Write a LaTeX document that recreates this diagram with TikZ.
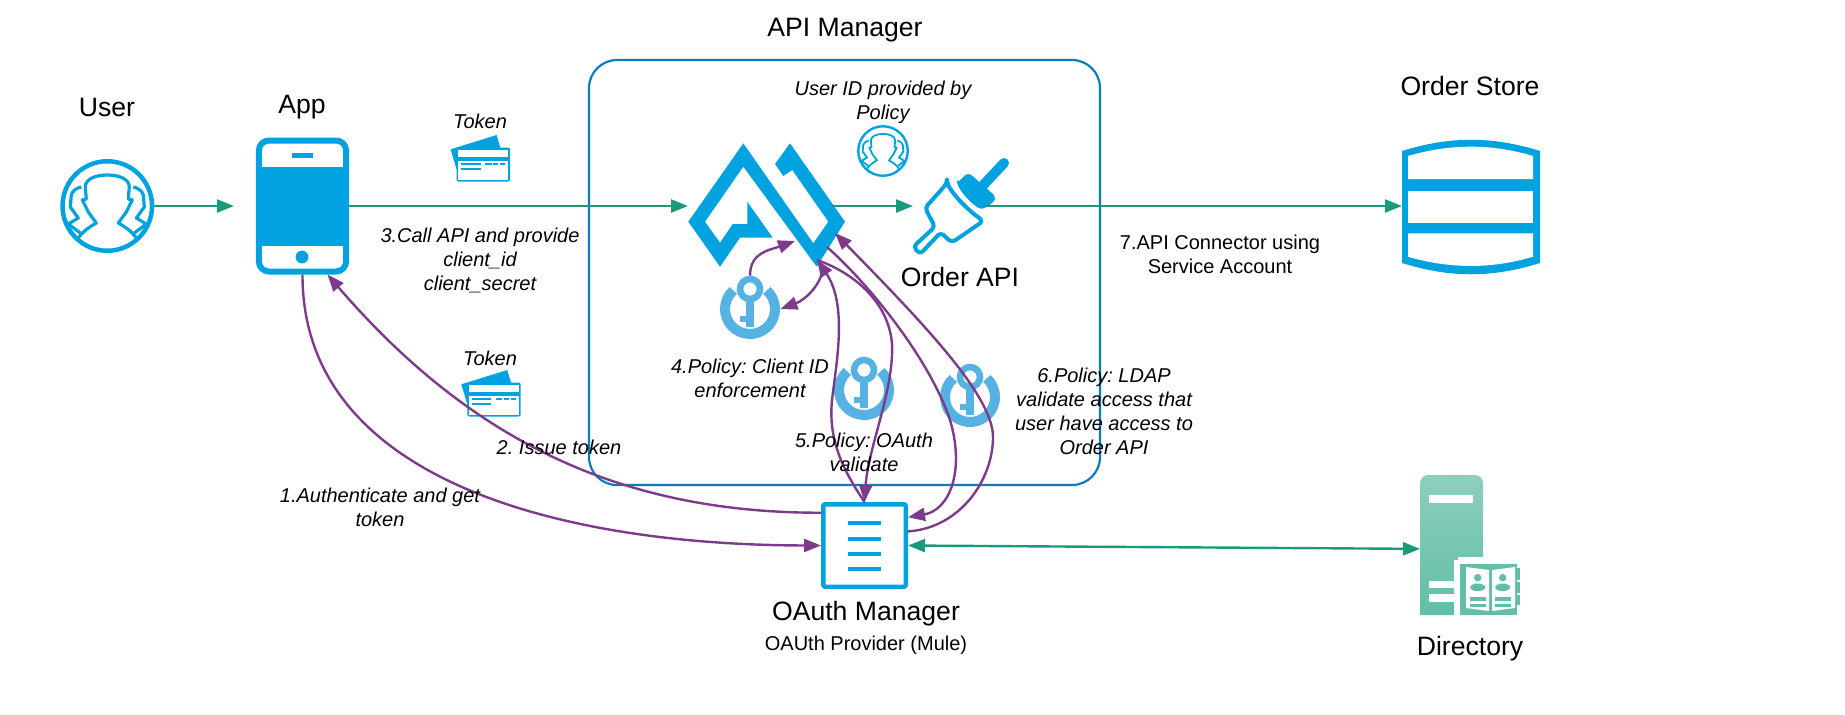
\documentclass[tikz,border=0pt]{standalone}
\usepackage{fontspec}
\setmainfont{Liberation Sans}
\usetikzlibrary{arrows.meta,shapes.geometric}
\definecolor{iconblue}{HTML}{00A3E0}
\definecolor{boxblue}{HTML}{0B7DBF}
\definecolor{flowpurple}{HTML}{7D3C8A}
\definecolor{flowgreen}{HTML}{1A9A7C}
\definecolor{keyblue}{HTML}{57B2E4}
\definecolor{tealtop}{HTML}{8CCFBD}
\definecolor{tealbot}{HTML}{62BEA6}
\tikzset{
  personicon/.pic={
    \foreach \sx in {-1,1} {
      \begin{scope}[xscale=\sx]
        \draw[iconblue, line join=round] (-29,32) .. controls (-24,25) and (-18,21) .. (-11,17) -- (-19,6) -- (-25,-6) -- (-21,-7) -- (-22,-19) .. controls (-22,-27) and (-12,-31) .. (0,-31);
        \draw[iconblue, line join=round] (-27,27) -- (-39,18) -- (-29,12) -- (-37,1) -- (-36,-11) .. controls (-35,-15) and (-31,-18) .. (-26,-19);
      \end{scope}
    }
  },
  cardicon/.pic={
    \fill[iconblue] (-32.7,-15.2) -- (13.3,-29.5) -- (17.3,-16) -- (-26.7,5) -- cycle;
    \fill[iconblue, rounded corners=1pt] (-26.7,-17) rectangle (26.7,17);
    \fill[white] (-25,-14.5) rectangle (25,-8);
    \fill[white] (-25,-4) rectangle (25,15.5);
    \draw[iconblue, line width=1pt] (-22,-1) -- (-2.7,-1);
    \draw[iconblue, line width=1pt] (-22,4.5) -- (-2.7,4.5);
    \foreach \xa/\xb in {1.7/8.3, 10/15, 16.7/21.7}
      \draw[iconblue, line width=1pt] (\xa,-1) -- (\xb,-1);
  },
  keyicon/.pic={
    \node[circle, minimum size=30pt, inner sep=0pt] (ring) at (0,0) {};
    \draw[keyblue, line width=5pt] (132:12.5pt) arc[start angle=132, end angle=408, radius=12.5pt];
    \fill[keyblue] (-4,-7) rectangle (4,18);
    \fill[keyblue] (-10,6.7) rectangle (-3,13.3);
    \node[circle, draw=keyblue, fill=white, line width=3.3pt, minimum size=10pt, inner sep=0pt] (head) at (0,-20) {};
  }
}
\begin{document}
\frenchspacing
\begin{tikzpicture}[
  x=0.5pt, y=-0.5pt,
  title/.style={font=\fontsize{13.3}{16}\selectfont},
  lbl/.style={font=\fontsize{10}{12}\selectfont\itshape, align=center},
  plainlbl/.style={font=\fontsize{10}{12}\selectfont, align=center},
  greenflow/.style={draw=flowgreen, line width=1.2pt, -{Triangle[length=8.5pt,width=6.5pt]}},
  purpleflow/.style={draw=flowpurple, line width=1.2pt, -{Triangle[length=8.5pt,width=6.5pt]}},
  usercircle/.style={circle, draw=iconblue, inner sep=0pt}
]
  \useasboundingbox (0,0) rectangle (1845,714);

  % --- titles ---
  \node[title] (tuser) at (107,107) {User};
  \node[title] (tapp) at (302,107) {App};
  \node[title] (tmanager) at (845,30) {API Manager};
  \node[title] (tstore) at (1470,86) {Order Store};
  \node[title] (torder) at (960,277) {Order API};
  \node[title] (tdir) at (1470,649) {Directory};
  \node[title] (toauth) at (866,614) {OAuth Manager};
  \node[plainlbl] (toauthsub) at (866,645) {OAUth Provider (Mule)};

  % --- API Manager box ---
  \node[draw=boxblue, line width=1.1pt, rounded corners=14pt, minimum width=255.5pt, minimum height=212.5pt, inner sep=0pt] (manager) at (844.5,272.5) {};

  % --- User ---
  \node[usercircle, line width=2.25pt, minimum size=44.75pt] (user) at (107.3,206) {};
  \pic[line width=1.6pt] at (user) {personicon};

  % --- App ---
  \node[draw=iconblue, line width=3pt, rounded corners=5pt, minimum width=43.6pt, minimum height=65.5pt, inner sep=0pt] (app) at (302.5,206) {};
  \fill[iconblue] (258,167) rectangle (347,246);
  \fill[iconblue] (292,153) rectangle (313,158);
  \fill[iconblue] (302,257) circle[radius=3.2pt];
  \coordinate (appgap) at (234,206);

  % --- tokens ---
  \pic at (483.3,164.5) {cardicon};
  \pic at (494,399.5) {cardicon};

  % --- API logo ---
  \node[minimum width=72pt, minimum height=62pt, inner sep=0pt, outer sep=0pt] (apilogo) at (760,206) {};
  \fill[iconblue] (720,266.7) -- (688.3,221.7) -- (743.3,143.3) -- (813.3,243.3) -- (828.3,221.7) -- (792.3,170) -- (783.3,176) -- (775,164) -- (790,143.3) -- (845,221.7) -- (816.7,266.7) -- (743.3,166.7) -- (705,221.7) -- (720,242.7) -- (732.7,224) -- (747.3,224) -- (747.3,201.7) -- (772.7,237.7) -- (740,237.7) -- cycle;
  \coordinate (logokeyin) at (795,241);
  \coordinate (logokeyout) at (823,268);
  \coordinate (logolow) at (817,260);
  \coordinate (logoC) at (827,247);
  \coordinate (logoD) at (835,233);

  % --- Order API plug ---
  \node[minimum width=36pt, minimum height=50pt, inner sep=0pt, outer sep=0pt] (plug) at (949,206) {};
  \draw[iconblue, line width=2pt, rounded corners=2pt, line join=round] (947,183.3) -- (925,208) -- (935,226.7) -- (913.3,246.7) -- (920,254.3) -- (940.7,232.3) -- (951.7,242.7) -- (983.3,221) .. controls (968,210) and (955,197) .. (947,183.3) -- cycle;
  \fill[iconblue, rounded corners=2pt] (956.7,183.3) -- (968.3,172.3) -- (996,196.7) -- (994,202) -- (981.7,210) .. controls (972,204) and (963,195) .. (956.7,183.3) -- cycle;
  \draw[iconblue, line width=5pt, line cap=round] (981.7,186.7) -- (1004,163);

  % --- User ID provided by Policy ---
  \node[usercircle, line width=1.2pt, minimum size=24.75pt] (policyuser) at (883,151) {};
  \pic[scale=.55, line width=0.9pt] at (policyuser) {personicon};
  \node[lbl] (tpolicyuser) at (883,102) {User ID provided by\\Policy};

  % --- keys ---
  \pic (keya) at (750,309) {keyicon};
  \pic (keyb) at (864,390) {keyicon};
  \pic (keyc) at (970,397) {keyicon};

  % --- OAuth Manager ---
  \node[draw=iconblue, fill=white, line width=2.25pt, rounded corners=1pt, minimum size=41.25pt, inner sep=0pt] (oauth) at (864.5,545.5) {};
  \foreach \ly in {523,539,554,569}
    \draw[iconblue, line width=2pt] (848,\ly) -- (881,\ly);

  % --- Order Store ---
  \node[minimum width=69pt, minimum height=66.5pt, inner sep=0pt, outer sep=0pt] (store) at (1471,206) {};
  \fill[iconblue] (1402,151) .. controls (1450,136) and (1492,136) .. (1540,151) -- (1540,263) .. controls (1492,278) and (1450,278) .. (1402,263) -- cycle;
  \fill[white] (1408,156) .. controls (1450,143.6) and (1492,143.6) .. (1533,156) -- (1533,179) -- (1408,179) -- cycle;
  \fill[white] (1408,191) rectangle (1533,223);
  \fill[white] (1408,233.3) -- (1533,233.3) -- (1533,256.7) .. controls (1492,269) and (1450,269) .. (1408,256.7) -- cycle;

  % --- Directory ---
  \node[minimum width=31.5pt, minimum height=70pt, inner sep=0pt, outer sep=0pt] (directory) at (1451.5,545) {};
  \shade[top color=tealtop, bottom color=tealbot] (1420,615) [rounded corners=4pt] -- (1420,475) -- (1483,475) [sharp corners] -- (1483,615) -- cycle;
  \fill[white] (1429,495) rectangle (1473,503);
  \fill[white] (1429,581) rectangle (1454,588);
  \fill[white] (1429,594) rectangle (1454,602);
  \fill[white] (1454,560) -- (1458,560) -- (1458,557) -- (1483,557) -- (1483,615) -- (1454,615) -- cycle;
  \fill[tealbot] (1460,564) -- (1517,564) -- (1517,615) -- (1460,615) -- cycle;
  \foreach \ty/\tb in {568/580, 582/593, 595/605}
    \fill[tealbot] (1517,\ty) rectangle (1520,\tb);
  \fill[white] (1466,567) -- (1489,570) -- (1489,611) -- (1466,608) -- cycle;
  \fill[white] (1492,570) -- (1515,567) -- (1515,608) -- (1492,611) -- cycle;
  \foreach \px in {1477.7,1502.7} {
    \fill[tealbot] (\px,577.7) circle[radius=1.85pt];
    \fill[tealbot] (\px,587.3) ellipse[x radius=3.75pt, y radius=1.9pt];
    \fill[tealbot] ({\px-8},597.3) rectangle ({\px+8},600.7);
    \fill[tealbot] ({\px-8},604) rectangle ({\px+8},607.3);
  }

  % --- green connectors ---
  \draw[greenflow] (user.east) -- (appgap);
  \draw[greenflow] (app.east) -- (apilogo.west);
  \draw[greenflow] (apilogo.east) -- (plug.west);
  \draw[greenflow] (plug.east) -- (store.west);
  \draw[greenflow, {Triangle[length=8.5pt,width=6.5pt]}-{Triangle[length=8.5pt,width=6.5pt]}] (oauth.east) -- (directory.187);

  % --- purple connectors ---
  \draw[purpleflow] (app.south) .. controls (302,480) and (560,545) .. (oauth.west);
  \draw[purpleflow] (oauth.143) .. controls (620,513) and (470,440) .. (app.-70);
  \draw[purpleflow] (keyahead.north) .. controls (750,252) and (770,250) .. (logokeyin);
  \draw[purpleflow] (logokeyout) .. controls (821,285) and (805,300) .. (keyaring.east);
  \draw[purpleflow] (oauth.north) .. controls (843,470) and (828,440) .. (832,400) .. controls (836,365) and (848,305) .. (logolow);
  \draw[purpleflow] (logolow) .. controls (860,275) and (895,310) .. (892,355) .. controls (890,400) and (868,450) .. (oauth.north);
  \draw[purpleflow] (logoC) .. controls (870,285) and (930,360) .. (950,420) .. controls (965,470) and (950,510) .. (oauth.33);
  \draw[purpleflow] (oauth.18) .. controls (960,528) and (993,480) .. (993,437) .. controls (993,395) and (920,320) .. (logoD);

  % --- labels ---
  \node[lbl] (ttoken1) at (480,121) {Token};
  \node[lbl] (ttoken2) at (490,358) {Token};
  \node[lbl] (tcall) at (480,260) {3.Call API and provide\\client\_id\\client\_secret};
  \node[lbl] (tissue) at (559,447) {2. Issue token};
  \node[lbl] (tauth) at (380,507) {1.Authenticate and get\\token};
  \node[lbl] (tclient) at (750,378) {4.Policy: Client ID\\enforcement};
  \node[lbl] (toauthval) at (864,452.5) {5.Policy: OAuth\\validate};
  \node[lbl] (tldap) at (1104,411) {6.Policy: LDAP\\validate access that\\user have access to\\Order API};
  \node[plainlbl] (tconn) at (1220,254) {7.API Connector using\\Service Account};
\end{tikzpicture}
\end{document}
